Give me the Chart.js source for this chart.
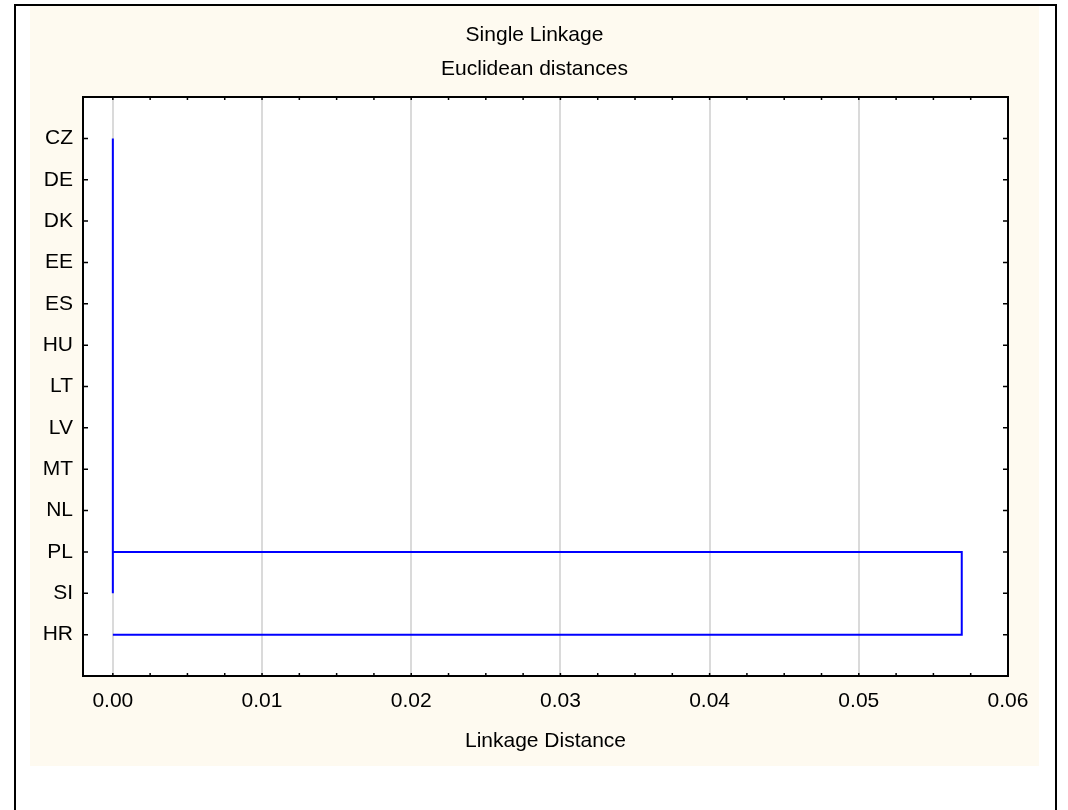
<!DOCTYPE html>
<html>
<head>
<meta charset="utf-8">
<script src="https://cdn.jsdelivr.net/npm/chart.js@4/dist/chart.umd.min.js"></script>
<style>
  html, body { margin: 0; padding: 0; background: #fff; overflow: hidden; width: 1068px; height: 810px; }
  #frame { position: absolute; left: 14px; top: 4px; width: 1043px; height: 1000px; box-sizing: border-box; border: 2px solid #000; }
  #panel { position: absolute; left: 30px; top: 6px; width: 1009px; height: 760px; background: #fefaf0; }
</style>
</head>
<body>
<div id="frame"></div>
<div id="panel"><canvas id="tree" width="1009" height="760"></canvas></div>
<script>
// leaves in dendrogram order (top to bottom)
let leaves = ['CZ', 'DE', 'DK', 'EE', 'ES', 'HU', 'LT', 'LV', 'MT', 'NL', 'PL', 'SI', 'HR'];
let xTickValues = [0, 0.01, 0.02, 0.03, 0.04, 0.05, 0.06];

// first 12 join at distance 0 -> one stem
let stemX = [0, 0];
let stemY = ['CZ', 'SI'];
// that cluster joins HR at ~0.0569
let linkX = [0, 0.0569, 0.0569, 0];
let linkY = ['PL', 'PL', 'HR', 'HR'];

let fontMain = { family: 'Liberation Sans, Arial, sans-serif', size: 21 };
Chart.defaults.color = '#000';

function toPoints(xs, ys) {
    return xs.map((v, i) => ({ x: v, y: leaves.indexOf(ys[i]) }));
}

// white plot area + inward ticks on all four sides
let frameTicks = {
    id: 'frameTicks',
    beforeDraw(chart) {
        let a = chart.chartArea;
        chart.ctx.save();
        chart.ctx.fillStyle = '#fff';
        chart.ctx.fillRect(a.left, a.top, a.right - a.left, a.bottom - a.top);
        chart.ctx.restore();
    },
    afterDraw(chart) {
        let ctx = chart.ctx, a = chart.chartArea, x = chart.scales.x, y = chart.scales.y;
        ctx.save();
        ctx.strokeStyle = '#000';
        ctx.lineWidth = 1.5;
        ctx.beginPath();
        leaves.forEach((l, i) => {
            let py = y.getPixelForValue(i);
            ctx.moveTo(a.left, py); ctx.lineTo(a.left + 5, py);
            ctx.moveTo(a.right - 5, py); ctx.lineTo(a.right, py);
        });
        for (let k = 0; k <= 24; k++) {
            let px = x.getPixelForValue(k * 0.0025);
            ctx.moveTo(px, a.bottom); ctx.lineTo(px, a.bottom - 3);
            ctx.moveTo(px, a.top); ctx.lineTo(px, a.top + 3);
        }
        ctx.stroke();
        ctx.restore();
    }
};

let lineStyle = { showLine: true, fill: false, borderColor: '#0000ff', borderWidth: 2, pointRadius: 0, tension: 0 };

let mychart = new Chart(document.getElementById('tree'), {
    type: 'scatter',
    data: {
        datasets: [
            Object.assign({ data: toPoints(stemX, stemY) }, lineStyle),
            Object.assign({ data: toPoints(linkX, linkY) }, lineStyle)
        ]
    },
    options: {
        responsive: false,
        animation: false,
        devicePixelRatio: 1,
        layout: { padding: 0 },
        plugins: {
            legend: { display: false },
            tooltip: { enabled: false },
            title: {
                display: true,
                text: ['Single Linkage', 'Euclidean distances'],
                color: '#000',
                font: { family: fontMain.family, size: 21, weight: 'normal', lineHeight: 1.62 },
                padding: { top: 12, bottom: 0 }
            }
        },
        scales: {
            x: {
                type: 'linear',
                position: 'bottom',
                min: -0.002,
                max: 0.06,
                afterBuildTicks: s => { s.ticks = xTickValues.map(v => ({ value: v })); },
                ticks: { callback: v => v.toFixed(2), padding: 13, font: fontMain, color: '#000', maxRotation: 0, autoSkip: false },
                grid: { color: '#dadada', lineWidth: 2, drawTicks: false },
                border: { color: '#000', width: 2 },
                title: { display: true, text: 'Linkage Distance', font: fontMain, color: '#000', padding: { top: 4, bottom: 12 } },
                afterFit: s => { s.height = 90; s.paddingLeft = 0; s.paddingRight = 0; }
            },
            x2: {
                type: 'linear',
                position: 'top',
                min: -0.002,
                max: 0.06,
                ticks: { display: false },
                grid: { display: false, drawTicks: false },
                border: { color: '#000', width: 2 },
                afterFit: s => { s.height = 11; }
            },
            y: {
                type: 'linear',
                position: 'left',
                reverse: true,
                min: -1,
                max: 13,
                afterBuildTicks: s => { s.ticks = leaves.map((l, i) => ({ value: i })); },
                ticks: { callback: v => leaves[v], padding: 10, font: fontMain, color: '#000', autoSkip: false },
                grid: { display: false, drawTicks: false },
                border: { color: '#000', width: 2 },
                afterFit: s => { s.width = 53; }
            },
            y2: {
                type: 'linear',
                position: 'right',
                reverse: true,
                min: -1,
                max: 13,
                ticks: { display: false },
                grid: { display: false, drawTicks: false },
                border: { color: '#000', width: 2 },
                afterFit: s => { s.width = 31; }
            }
        }
    },
    plugins: [frameTicks]
});
</script>
</body>
</html>
